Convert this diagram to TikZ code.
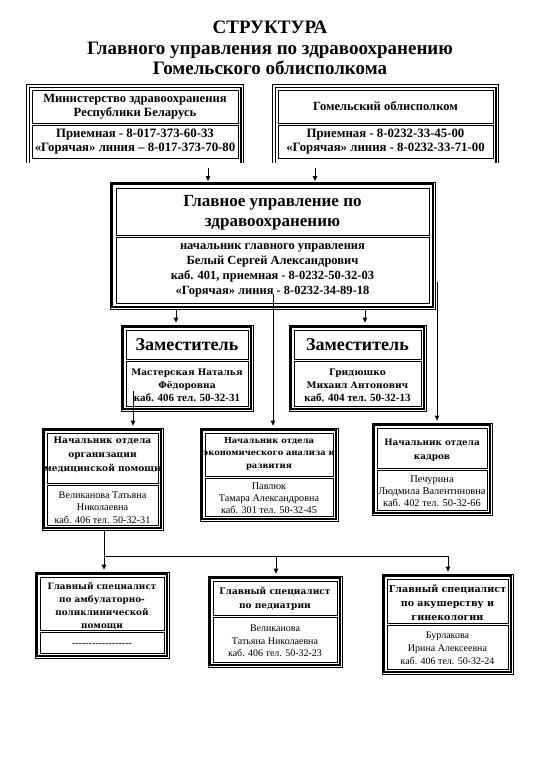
\documentclass[tikz,border=0pt]{standalone}
\usepackage{fontspec}
\setmainfont{Liberation Serif}
\newfontfamily\wideserif{DejaVu Serif}
\usetikzlibrary{arrows.meta,calc}
\newcommand\fs[2]{\fontsize{#1}{#2}\selectfont}
\newcommand\hy{\hbox{-}}
% framed box: name x1 y1 x2 y2
\newcommand\oframe[5]{%
  \node[frameout, minimum width={#4-#2}, minimum height={#5-#3}] (#1) at ({(#2+#4)/2},{(#3+#5)/2}) {};
  \draw[framein] ($(#1.north west)+(2.6,2.6)$) rectangle ($(#1.south east)+(-2.6,-2.6)$);}
% open-bottom framed box
\newcommand\oframeopen[5]{%
  \node[inner sep=0pt, minimum width={#4-#2}, minimum height={#5-#3}] (#1) at ({(#2+#4)/2},{(#3+#5)/2}) {};
  \draw[frameline] (#1.south west) -- (#1.north west) -- (#1.north east) -- (#1.south east);
  \draw[framein] ($(#1.south west)+(2.6,0)$) -- ($(#1.north west)+(2.6,2.6)$) -- ($(#1.north east)+(-2.6,2.6)$) -- ($(#1.south east)+(-2.6,0)$);}
% cell: name x1 y1 x2 y2
\newcommand\cellr[5]{%
  \node[cellbox, minimum width={#4-#2}, minimum height={#5-#3}] (#1) at ({(#2+#4)/2},{(#3+#5)/2}) {};}
\begin{document}
\begin{tikzpicture}[x=1pt,y=-1pt,
  frameline/.style={line width=0.8pt},
  frameout/.style={draw, line width=0.8pt, inner sep=0pt},
  framein/.style={line width=1.8pt},
  cellbox/.style={draw, line width=0.8pt, inner sep=0pt},
  txt/.style={inner sep=0pt, align=center},
  conn/.style={line width=0.8pt},
  arr/.style={conn, -{Triangle[length=5pt,width=4.5pt]}, shorten >=2pt}
]
\useasboundingbox (0,0) rectangle (539,780);
\fill[white] (0,0) rectangle (539,780);

% title
\node[txt, font=\bfseries\fs{19}{20.7}] (title) at (270,48)
  {СТРУКТУРА\\Главного управления по здравоохранению\\Гомельского облисполкома};

% top boxes
\oframeopen{minF}{27}{85}{243}{163}
\cellr{min1}{32}{90}{238}{123}
\cellr{min2}{32}{125}{238}{158}
\node[txt, font=\bfseries\fs{12.6}{13.5}] (minT1) at (135,106.5) {Министерство здравоохранения\\Республики Беларусь};
\node[txt, font=\bfseries\fs{12.8}{14}] (minT2) at (135,141.5) {Приемная - 8-017-373-60-33\\«Горячая» линия – 8-017-373-70-80};

\oframeopen{gomF}{273}{85}{498}{163}
\cellr{gom1}{278}{90}{493}{123}
\cellr{gom2}{278}{125}{493}{158}
\node[txt, font=\bfseries\fs{12.5}{13.5}] (gomT1) at (385.5,106.5) {Гомельский облисполком};
\node[txt, font=\bfseries\fs{12.8}{14}] (gomT2) at (385.5,141.5) {Приемная - 8-0232-33-45-00\\«Горячая» линия - 8-0232-33-71-00};

% main box
\oframe{mainF}{110}{182}{435}{309}
\cellr{main1}{116}{188}{429}{235}
\cellr{main2}{116}{237}{429}{303}
\node[txt, font=\bfseries\fs{17}{20}] (mainT1) at (272.5,212.5) {Главное управление по\\здравоохранению};
\node[txt, font=\bfseries\fs{12.5}{15}] (mainT2) at (272.5,270.5) {начальник главного управления\\Белый Сергей Александрович\\каб. 401, приемная - 8-0232-50-32-03\\«Горячая» линия - 8-0232-34-89-18};

% deputies
\oframe{dep1F}{121}{325}{253}{411}
\cellr{dep11}{126}{330}{248}{359}
\cellr{dep12}{126}{361}{248}{406}
\node[txt, font=\bfseries\fs{18}{20}] (dep1T1) at (187,345) {Заместитель};
\node[txt, font=\bfseries\fs{9}{13}] (dep1T2) at (187,385)
  {{\wideserif Мастерская Наталья}\\{\wideserif Фёдоровна}\\{\fontsize{11}{13}\selectfont каб. 406 тел. 50-32-31}};

\oframe{dep2F}{289}{325}{426}{411}
\cellr{dep21}{294}{330}{421}{359}
\cellr{dep22}{294}{361}{421}{406}
\node[txt, font=\bfseries\fs{18}{20}] (dep2T1) at (357.5,345) {Заместитель};
\node[txt, font=\bfseries\fs{9}{13}] (dep2T2) at (357.5,385)
  {{\wideserif Гридюшко}\\{\wideserif Михаил Антонович}\\{\fontsize{11}{13}\selectfont каб. 404 тел. 50-32-13}};

% row 3
\oframe{medF}{42}{428}{163}{530}
\cellr{med1}{47}{433}{158}{483}
\cellr{med2}{47}{485}{158}{525}
\node[txt, font=\wideserif\bfseries\fs{9}{14}] (medT1) at (102.5,455) {Начальник отдела\\организации\\медицинской помощи};
\node[txt, font=\fs{10.2}{12.3}] (medT2) at (102.5,507.5) {Великанова Татьяна\\Николаевна\\каб. 406 тел. 50-32-31};

\oframe{econF}{200}{428}{338}{521}
\cellr{econ1}{205}{433}{333}{476}
\cellr{econ2}{205}{478}{333}{516}
\node[txt, font=\wideserif\bfseries\fs{8.3}{12.5}] (econT1) at (269,453.5) {Начальник отдела\\экономического анализа и\\развития};
\node[txt, font=\fs{10.2}{12}] (econT2) at (269,498.5) {Павлюк\\Тамара Александровна\\каб. 301 тел. 50-32-45};

\oframe{kadF}{372}{423}{492}{515}
\cellr{kad1}{377}{428}{487}{468}
\cellr{kad2}{377}{470}{487}{510}
\node[txt, font=\wideserif\bfseries\fs{8.8}{14}] (kadT1) at (432,450) {Начальник отдела\\кадров};
\node[txt, font=\fs{10.4}{12}] (kadT2) at (432,491.5) {Печурина\\Людмила Валентиновна\\каб. 402 тел. 50-32-66};

% row 4
\oframe{ambF}{35}{572}{169}{658}
\cellr{amb1}{40}{577}{164}{630}
\cellr{amb2}{40}{632}{164}{653}
\node[txt, font=\wideserif\bfseries\fs{8.8}{13}] (ambT1) at (102,606.5) {Главный специалист\\по амбулаторно-\\поликлинической\\помощи};
\node[txt, font=\fs{10}{12}] (ambT2) at (102,645) {\hy\hy\hy\hy\hy\hy\hy\hy\hy\hy\hy\hy\hy\hy\hy\hy\hy\hy};

\oframe{pedF}{208}{576}{342}{667}
\cellr{ped1}{213}{581}{337}{615}
\cellr{ped2}{213}{617}{337}{662}
\node[txt, font=\wideserif\bfseries\fs{9}{14}] (pedT1) at (275,599) {Главный специалист\\по педиатрии};
\node[txt, font=\fs{10}{12.5}] (pedT2) at (275,641) {Великанова\\Татьяна Николаевна\\каб. 406 тел. 50-32-23};

\oframe{obsF}{382}{574}{513}{674}
\cellr{obs1}{387}{579}{508}{623}
\cellr{obs2}{387}{625}{508}{669}
\node[txt, font=\wideserif\bfseries\fs{9.5}{14}] (obsT1) at (447.5,602.5) {Главный специалист\\по акушерству и\\гинекологии};
\node[txt, font=\fs{10}{13}] (obsT2) at (447.5,648.5) {Бурлакова\\Ирина Алексеевна\\каб. 406 тел. 50-32-24};

% connectors
\coordinate (a1s) at (208,168); \coordinate (a1e) at (208,183);
\coordinate (a2s) at (315,168); \coordinate (a2e) at (315,183);
\draw[arr] (a1s) -- (a1e);
\draw[arr] (a2s) -- (a2e);

\coordinate (m1) at (176,309);
\coordinate (m2) at (273,294);
\coordinate (m3) at (365,309);
\coordinate (m4) at (437,282);
\draw[arr] (m1) -- (m1 |- dep1F.north);
\draw[arr] (m2) -- (m2 |- econF.north);
\draw[arr] (m3) -- (m3 |- dep2F.north);
\draw[arr] (m4) -- (m4 |- kadF.north);

\coordinate (d1) at (133,391);
\draw[arr] (d1) -- (d1 |- medF.north);

\coordinate (b1) at (104,556);
\coordinate (b2) at (276,556);
\coordinate (b3) at (448,556);
\draw[conn] (medF.south -| b1) -- (b1) -- (b3);
\draw[arr] (b1) -- (b1 |- ambF.north);
\draw[arr] (b2) -- (b2 |- pedF.north);
\draw[arr] (b3) -- (b3 |- obsF.north);
\end{tikzpicture}
\end{document}
